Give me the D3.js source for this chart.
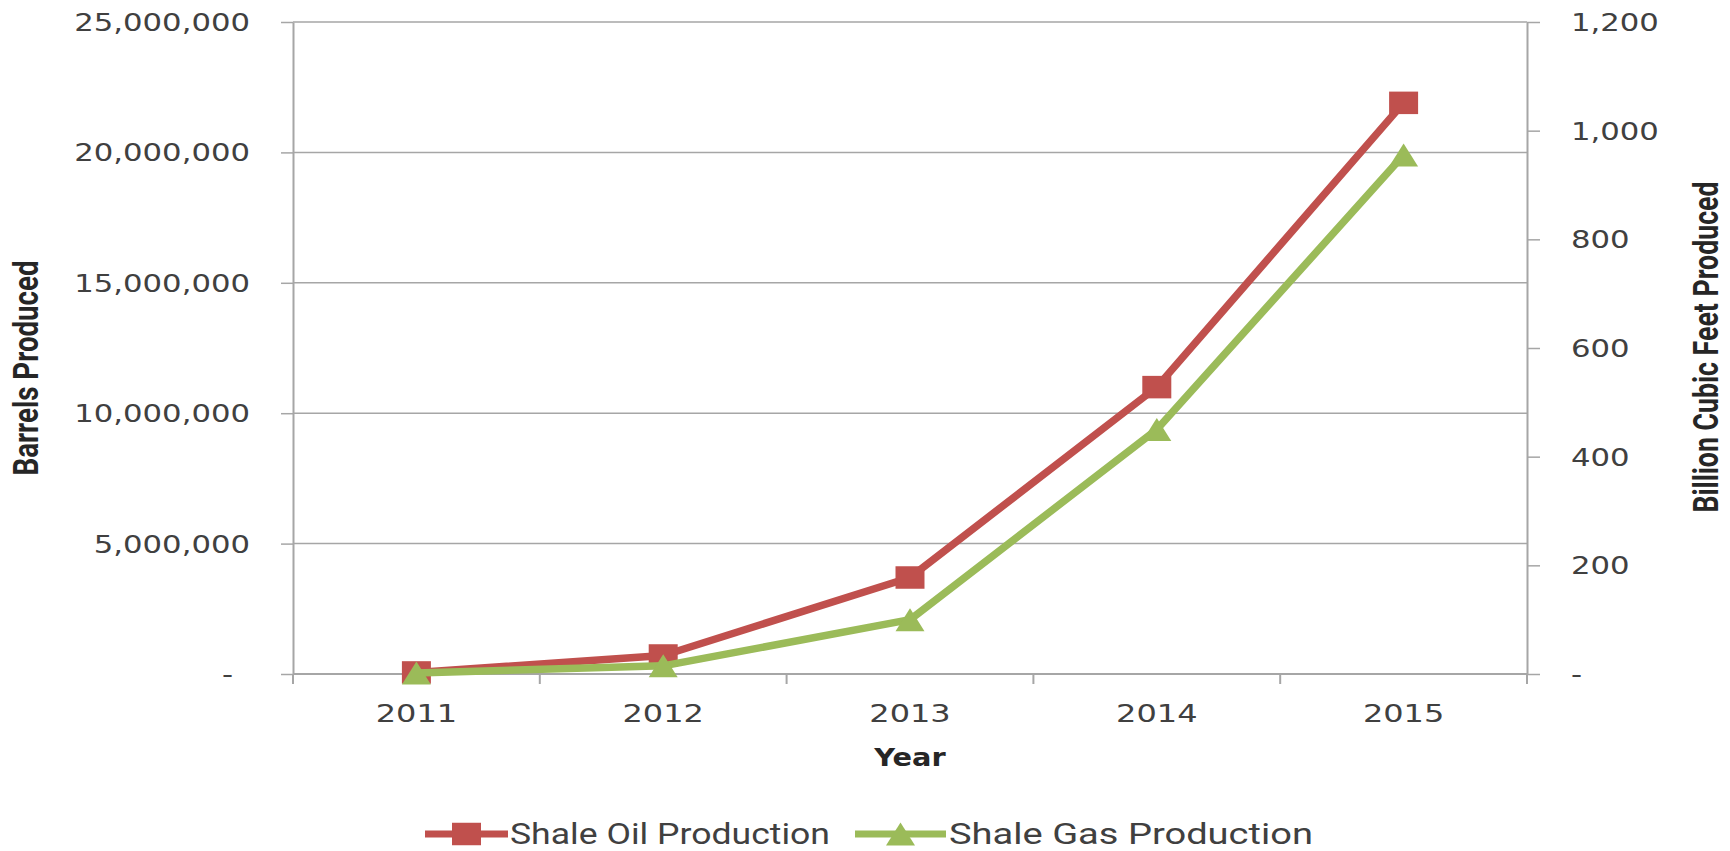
<!DOCTYPE html>
<html>
<head>
<meta charset="utf-8">
<script src="https://cdn.jsdelivr.net/npm/d3@7/dist/d3.min.js"></script>
<style>
  body { margin: 0; background: #fff; }
  svg { display: block; }
</style>
</head>
<body>
<svg width="1730" height="851"></svg>
<script>
// data
var years = ['2011', '2012', '2013', '2014', '2015'];
var oilBarrels = [60000, 710000, 3700000, 11000000, 21900000];
var gasBcf = [2, 15, 100, 450, 955];
var leftTicks = [0, 5000000, 10000000, 15000000, 20000000, 25000000];
var rightTicks = [0, 200, 400, 600, 800, 1000, 1200];
var seriesNames = ['Shale Oil Production', 'Shale Gas Production'];

var oilColor = '#c0504d';
var gasColor = '#9bbb59';
var gridColor = '#a6a6a6';
var textColor = '#404040';
var stretch = 1.28; // the source image is stretched sideways

var plotL = 293, plotR = 1527, plotT = 22, plotB = 674;

var svg = d3.select('svg');

var x = d3.scaleBand().domain(years).range([plotL, plotR]);
var yLeft = d3.scaleLinear().domain([0, 25000000]).range([plotB, plotT]);
var yRight = d3.scaleLinear().domain([0, 1200]).range([plotB, plotT]);

var fmt = d3.format(',');

// horizontal grid
svg.append('g').selectAll('line')
    .data(leftTicks)
    .enter().append('line')
    .attr('x1', plotL)
    .attr('x2', plotR)
    .attr('y1', function(d) { return yLeft(d); })
    .attr('y2', function(d) { return yLeft(d); })
    .attr('stroke', gridColor)
    .attr('stroke-width', 1.5);

// left axis
var axL = svg.append('g')
    .attr('transform', 'translate(' + plotL + ',0)')
    .call(d3.axisLeft(yLeft).tickValues(leftTicks).tickSize(12).tickSizeOuter(0)
        .tickFormat(function(d) { return d === 0 ? '-' : fmt(d); }));

// right axis
var axR = svg.append('g')
    .attr('transform', 'translate(' + plotR + ',0)')
    .call(d3.axisRight(yRight).tickValues(rightTicks).tickSize(13).tickSizeOuter(0)
        .tickFormat(function(d) { return d === 0 ? '-' : fmt(d); }));

[axL, axR].forEach(function(ax) {
    ax.select('.domain').attr('stroke', gridColor).attr('stroke-width', 2);
    ax.selectAll('.tick line').attr('stroke', gridColor).attr('stroke-width', 1.5);
    ax.selectAll('.tick text')
        .attr('fill', textColor)
        .style('font-family', 'DejaVu Sans, Verdana, sans-serif')
        .style('font-size', '24px')
        .attr('dy', '0.35em');
});

axL.selectAll('.tick text')
    .attr('x', 0)
    .attr('transform', function(d) {
        return 'translate(' + (d === 0 ? -60 : -43) + ',0) scale(' + stretch + ',1)';
    });

axR.selectAll('.tick text')
    .attr('x', 0)
    .attr('transform', 'translate(44,0) scale(' + stretch + ',1)');

// x axis: line, ticks between categories, labels
var edges = years.map(function(d) { return x(d); }).concat([plotR]);

svg.append('line')
    .attr('x1', plotL).attr('x2', plotR)
    .attr('y1', plotB).attr('y2', plotB)
    .attr('stroke', gridColor)
    .attr('stroke-width', 2);

svg.append('g').selectAll('line')
    .data(edges)
    .enter().append('line')
    .attr('x1', function(d) { return d; })
    .attr('x2', function(d) { return d; })
    .attr('y1', plotB)
    .attr('y2', plotB + 10)
    .attr('stroke', gridColor)
    .attr('stroke-width', 2);

svg.append('g').selectAll('text')
    .data(years)
    .enter().append('text')
    .attr('transform', function(d) {
        return 'translate(' + (x(d) + x.bandwidth() / 2) + ',722) scale(' + stretch + ',1)';
    })
    .attr('text-anchor', 'middle')
    .attr('fill', textColor)
    .style('font-family', 'DejaVu Sans, Verdana, sans-serif')
    .style('font-size', '25px')
    .text(function(d) { return d; });

svg.append('text')
    .attr('transform', 'translate(' + ((plotL + plotR) / 2) + ',766) scale(1.2,1)')
    .attr('text-anchor', 'middle')
    .attr('fill', '#262626')
    .style('font-family', 'DejaVu Sans, Verdana, sans-serif')
    .style('font-weight', 'bold')
    .style('font-size', '24px')
    .text('Year');

// axis titles
var titleFont = 'Liberation Sans Narrow, Roboto, Liberation Sans, sans-serif';

svg.append('text')
    .attr('transform', 'translate(38,368) rotate(-90) scale(1,' + stretch + ')')
    .attr('text-anchor', 'middle')
    .attr('fill', '#262626')
    .style('font-family', titleFont)
    .style('font-weight', 'bold')
    .style('font-size', '27px')
    .attr('textLength', 215)
    .attr('lengthAdjust', 'spacingAndGlyphs')
    .text('Barrels Produced');

svg.append('text')
    .attr('transform', 'translate(1718,347) rotate(-90) scale(1,' + stretch + ')')
    .attr('text-anchor', 'middle')
    .attr('fill', '#262626')
    .style('font-family', titleFont)
    .style('font-weight', 'bold')
    .style('font-size', '27px')
    .attr('textLength', 331)
    .attr('lengthAdjust', 'spacingAndGlyphs')
    .text('Billion Cubic Feet Produced');

// series
var cx = function(d, i) { return x(years[i]) + x.bandwidth() / 2; };

var oilLine = d3.line()
    .x(function(d, i) { return cx(d, i); })
    .y(function(d) { return yLeft(d); });

var gasLine = d3.line()
    .x(function(d, i) { return cx(d, i); })
    .y(function(d) { return yRight(d); });

var sqW = 29, sqH = 22.5, triW = 29, triH = 23;

function squarePath(px, py) {
    return 'M' + (px - sqW / 2) + ',' + (py - sqH / 2) + 'h' + sqW + 'v' + sqH + 'h' + (-sqW) + 'Z';
}

function trianglePath(px, py) {
    return 'M' + px + ',' + (py - triH / 2) +
        'L' + (px + triW / 2) + ',' + (py + triH / 2) +
        'L' + (px - triW / 2) + ',' + (py + triH / 2) + 'Z';
}

svg.append('path')
    .datum(oilBarrels)
    .attr('d', oilLine)
    .attr('fill', 'none')
    .attr('stroke', oilColor)
    .attr('stroke-width', 7.5)
    .attr('stroke-linejoin', 'round');

svg.append('g').selectAll('path')
    .data(oilBarrels)
    .enter().append('path')
    .attr('d', function(d, i) { return squarePath(cx(d, i), yLeft(d)); })
    .attr('fill', oilColor);

svg.append('path')
    .datum(gasBcf)
    .attr('d', gasLine)
    .attr('fill', 'none')
    .attr('stroke', gasColor)
    .attr('stroke-width', 7.5)
    .attr('stroke-linejoin', 'round');

svg.append('g').selectAll('path')
    .data(gasBcf)
    .enter().append('path')
    .attr('d', function(d, i) { return trianglePath(cx(d, i), yRight(d)); })
    .attr('fill', gasColor);

// legend
var legendY = 834;
var legend = [
    {name: seriesNames[0], color: oilColor, x0: 425, x1: 508, tx: 510, tw: 320, marker: squarePath},
    {name: seriesNames[1], color: gasColor, x0: 855, x1: 946, tx: 949, tw: 364, marker: trianglePath}
];

var lg = svg.append('g').selectAll('g')
    .data(legend)
    .enter().append('g');

lg.append('line')
    .attr('x1', function(d) { return d.x0; })
    .attr('x2', function(d) { return d.x1; })
    .attr('y1', legendY)
    .attr('y2', legendY)
    .attr('stroke', function(d) { return d.color; })
    .attr('stroke-width', 7);

lg.append('path')
    .attr('d', function(d) { return d.marker((d.x0 + d.x1) / 2, legendY); })
    .attr('fill', function(d) { return d.color; });

lg.append('text')
    .attr('x', function(d) { return d.tx; })
    .attr('y', 844)
    .attr('fill', textColor)
    .style('font-family', titleFont)
    .style('font-size', '29px')
    .attr('textLength', function(d) { return d.tw; })
    .attr('lengthAdjust', 'spacingAndGlyphs')
    .text(function(d) { return d.name; });
</script>
</body>
</html>
